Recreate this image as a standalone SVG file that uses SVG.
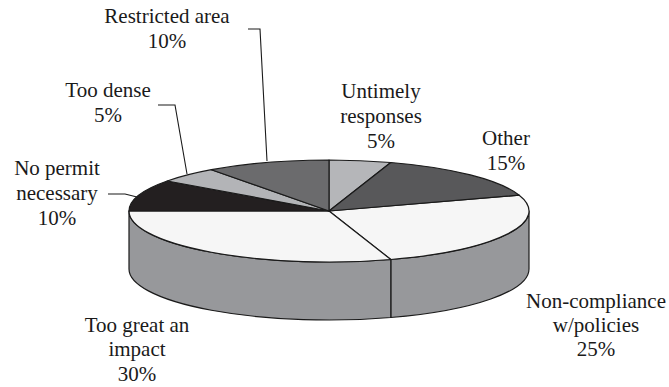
<svg xmlns="http://www.w3.org/2000/svg" width="669" height="387" viewBox="0 0 669 387">
<style>
  .lbl { font-family: 'Liberation Serif', 'DejaVu Serif', 'Times New Roman', serif; font-size: 21px; fill: #1a1a1a; text-anchor: middle; }
  .sl { stroke: #1a1a1a; stroke-width: 1.2; stroke-linejoin: round; }
  .side { fill: #97989b; }
  .lead { fill: none; stroke: #1a1a1a; stroke-width: 1.1; }
</style>
<rect width="669" height="387" fill="#ffffff"/>

<g id="non-compliance">
  <path class="sl side" d="M 529 211 A 200 51 0 0 1 390.8 259.5 L 390.8 317.5 A 200 51 0 0 0 529 269 Z"/>
  <path class="sl" fill="#f6f6f6" d="M 329 211 L 519.2 195.2 A 200 51 0 0 1 390.8 259.5 Z"/>
  <text class="lbl" x="596" y="308">Non-compliance</text>
  <text class="lbl" x="596" y="332">w/policies</text>
  <text class="lbl" x="596" y="356">25%</text>
</g>

<g id="too-great-an-impact">
  <path class="sl side" d="M 390.8 259.5 A 200 51 0 0 1 129 211 L 129 269 A 200 51 0 0 0 390.8 317.5 Z"/>
  <path class="sl" fill="#f6f6f6" d="M 329 211 L 390.8 259.5 A 200 51 0 0 1 129 211 Z"/>
  <text class="lbl" x="137" y="332">Too great an</text>
  <text class="lbl" x="137" y="356">impact</text>
  <text class="lbl" x="137" y="381">30%</text>
</g>

<g id="untimely-responses">
  <path class="sl" fill="#b5b6b9" d="M 329 211 L 329 160 A 200 51 0 0 1 390.8 162.5 Z"/>
  <text class="lbl" x="381" y="98">Untimely</text>
  <text class="lbl" x="381" y="123">responses</text>
  <text class="lbl" x="381" y="148">5%</text>
</g>

<g id="other">
  <path class="sl" fill="#58585a" d="M 329 211 L 390.8 162.5 A 200 51 0 0 1 519.2 195.2 Z"/>
  <text class="lbl" x="506" y="145">Other</text>
  <text class="lbl" x="506" y="170">15%</text>
</g>

<g id="no-permit-necessary">
  <path class="sl" fill="#231f20" d="M 329 211 L 129 211 A 200 51 0 0 1 167.2 181 Z"/>
  <text class="lbl" x="57" y="175">No permit</text>
  <text class="lbl" x="57" y="200">necessary</text>
  <text class="lbl" x="57" y="225">10%</text>
</g>

<g id="too-dense">
  <path class="sl" fill="#b3b4b7" d="M 329 211 L 167.2 181 A 200 51 0 0 1 211.4 169.7 Z"/>
  <text class="lbl" x="108" y="97">Too dense</text>
  <text class="lbl" x="108" y="122">5%</text>
</g>

<g id="restricted-area">
  <path class="sl" fill="#6b6b6d" d="M 329 211 L 211.4 169.7 A 200 51 0 0 1 329 160 Z"/>
  <text class="lbl" x="167" y="23">Restricted area</text>
  <text class="lbl" x="167" y="48">10%</text>
</g>

<g id="connectors">
  <polyline class="lead" points="248,29 260,29 267,161"/>
  <polyline class="lead" points="158,105 175,105 187,174"/>
  <polyline class="lead" points="108,194 125,194 137,197"/>
</g>
</svg>
